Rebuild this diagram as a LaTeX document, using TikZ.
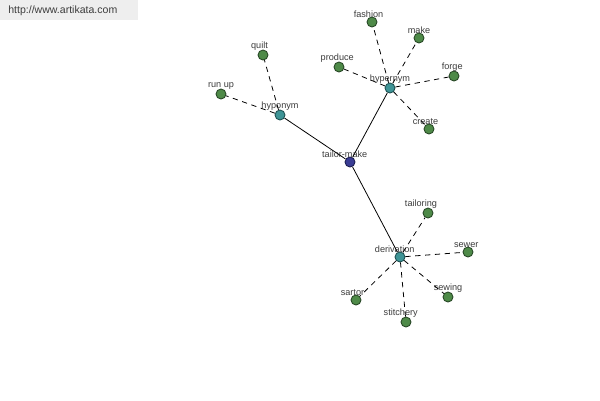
\documentclass[tikz,border=0pt]{standalone}
\usepackage{fontspec}
\setmainfont{Liberation Sans}
\definecolor{leafgreen}{RGB}{78,138,72}
\definecolor{leafline}{RGB}{40,72,38}
\definecolor{relteal}{RGB}{62,148,150}
\definecolor{relline}{RGB}{30,80,82}
\definecolor{rootblue}{RGB}{58,60,148}
\definecolor{rootline}{RGB}{28,30,80}
\definecolor{lblgray}{RGB}{60,60,60}
\definecolor{wmbg}{RGB}{238,238,238}

\begin{document}
\begin{tikzpicture}[x=0.02cm,y=-0.02cm,
    lbl/.style={font=\fontsize{5.2}{6}\selectfont,text=lblgray,inner sep=0.8pt,yshift=-1.6pt},
    dot/.style={circle,draw,line width=0.5pt,minimum size=0.2cm,inner sep=0pt,label distance=0pt},
    leaf/.style={dot,fill=leafgreen,draw=leafline},
    rel/.style={dot,fill=relteal,draw=relline},
    root/.style={dot,fill=rootblue,draw=rootline},
    link/.style={line width=0.45pt,black},
    weak/.style={line width=0.45pt,black,dash pattern=on 3pt off 2.6pt}]
                \useasboundingbox[fill=white] (0,0) rectangle (600,400);
                \fill[wmbg] (0,0) rectangle (138,20);
                \node[anchor=west,font=\fontsize{6}{7}\selectfont,text=lblgray,inner sep=0pt] (site) at (8,11) {http://www.artikata.com};
                \node[root,label={[lbl,xshift=-3pt]above:tailor-make}] (tailormake) at (350,162) {};
                \node[rel,label={[lbl]above:hyponym}] (hyponym) at (280,115) {};
                \node[rel,label={[lbl]above:hypernym}] (hypernym) at (390,88) {};
                \node[rel,label={[lbl,xshift=-3pt]above:derivation}] (derivation) at (400,257) {};
                \node[leaf,label={[lbl,xshift=-2pt]above:quilt}] (quilt) at (263,55) {};
                \node[leaf,label={[lbl]above:run up}] (runup) at (221,94) {};
                \node[leaf,label={[lbl,xshift=-2pt]above:fashion}] (fashion) at (372,22) {};
                \node[leaf,label={[lbl]above:make}] (make) at (419,38) {};
                \node[leaf,label={[lbl,xshift=-1pt]above:produce}] (produce) at (339,67) {};
                \node[leaf,label={[lbl,xshift=-1pt]above:forge}] (forge) at (454,76) {};
                \node[leaf,label={[lbl,xshift=-2pt]above:create}] (create) at (429,129) {};
                \node[leaf,label={[lbl,xshift=-4pt]above:tailoring}] (tailoring) at (428,213) {};
                \node[leaf,label={[lbl,xshift=-1pt]above:sewer}] (sewer) at (468,252) {};
                \node[leaf,label={[lbl]above:sewing}] (sewing) at (448,297) {};
                \node[leaf,label={[lbl,xshift=-3pt]above:stitchery}] (stitchery) at (406,322) {};
                \node[leaf,label={[lbl,xshift=-2pt]above:sartor}] (sartor) at (356,300) {};
                \draw[link] (tailormake) -- (hyponym);
                \draw[link] (tailormake) -- (hypernym);
                \draw[link] (tailormake) -- (derivation);
                \foreach \t in {quilt,runup}
                    \draw[weak] (hyponym) -- (\t);
                \foreach \t in {fashion,make,produce,forge,create}
                    \draw[weak] (hypernym) -- (\t);
                \foreach \t in {tailoring,sewer,sewing,stitchery,sartor}
                    \draw[weak] (derivation) -- (\t);
            \end{tikzpicture}
\end{document}
